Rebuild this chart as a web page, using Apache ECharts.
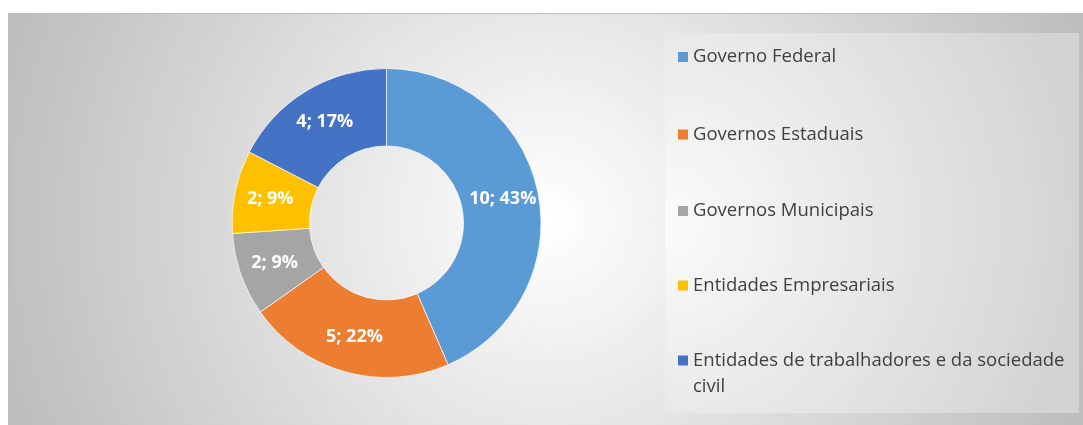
<!DOCTYPE html>
<html>
<head>
<meta charset="utf-8">
<script src="https://cdn.jsdelivr.net/npm/echarts@6/dist/echarts.min.js"></script>
<style>
  html, body { margin: 0; padding: 0; background: #fff; }
  #chart { width: 1083px; height: 425px; }
</style>
</head>
<body>
<div id="chart"></div>
<script>
var categories = ['Governo Federal', 'Governos Estaduais', 'Governos Municipais', 'Entidades Empresariais', 'Entidades de trabalhadores e da sociedade civil'];
var values = [10, 5, 2, 2, 4];
var colors = ['#5b9bd5', '#ed7d31', '#a5a5a5', '#ffc000', '#4472c4'];

var chart = echarts.init(document.getElementById('chart'), null, { renderer: 'canvas' });

// legend icon centres (y), one legend per entry
var legendY = [57, 134.5, 211, 285.5, 360.5];
var legends = categories.map(function (name, i) {
  var multi = i === categories.length - 1;
  return {
    data: [name],
    left: 678,
    top: legendY[i] - (multi ? 39 : 13),
    padding: 0,
    icon: 'rect',
    itemWidth: 10,
    itemHeight: 10,
    itemStyle: { borderWidth: 0 },
    selectedMode: false,
    // empty first line keeps the marker level with the first text line
    formatter: multi ? function (n) { return '\n' + n; } : '{name}',
    textStyle: {
      fontFamily: 'Open Sans',
      fontSize: 18.5,
      color: '#404040',
      lineHeight: 26,
      width: multi ? 385 : null,
      overflow: multi ? 'break' : 'none'
    }
  };
});

var option = {
  animation: false,
  backgroundColor: '#fff',
  color: colors,
  graphic: [
    {
      type: 'rect',
      z: -10,
      silent: true,
      shape: { x: 8.5, y: 13.5, width: 1080, height: 420 },
      style: {
        stroke: '#bdbdbd',
        lineWidth: 1,
        fill: new echarts.graphic.RadialGradient(0.5, 0.49, 1.33, [
          { offset: 0, color: '#ffffff' },
          { offset: 1, color: '#bebebe' }
        ])
      }
    },
    {
      type: 'rect',
      z: -9,
      silent: true,
      shape: { x: 665, y: 33, width: 414, height: 380 },
      style: {
        fill: new echarts.graphic.RadialGradient(0, 0.5, 1.1, [
          { offset: 0, color: '#fbfbfb' },
          { offset: 1, color: '#d3d3d3' }
        ])
      }
    }
  ],
  legend: legends,
  series: [
    {
      type: 'pie',
      center: [386.5, 223],
      radius: [77, 154.5],
      startAngle: 90,
      clockwise: true,
      percentPrecision: 0,
      avoidLabelOverlap: false,
      itemStyle: { borderColor: '#ffffff', borderWidth: 0.7 },
      label: {
        show: true,
        position: 'inside',
        formatter: '{c}; {d}%',
        color: '#ffffff',
        fontFamily: 'Open Sans',
        fontWeight: 'bold',
        fontSize: 18
      },
      labelLine: { show: false },
      emphasis: { disabled: true },
      data: categories.map(function (name, i) {
        return { name: name, value: values[i] };
      })
    }
  ]
};

chart.setOption(option);
</script>
</body>
</html>
